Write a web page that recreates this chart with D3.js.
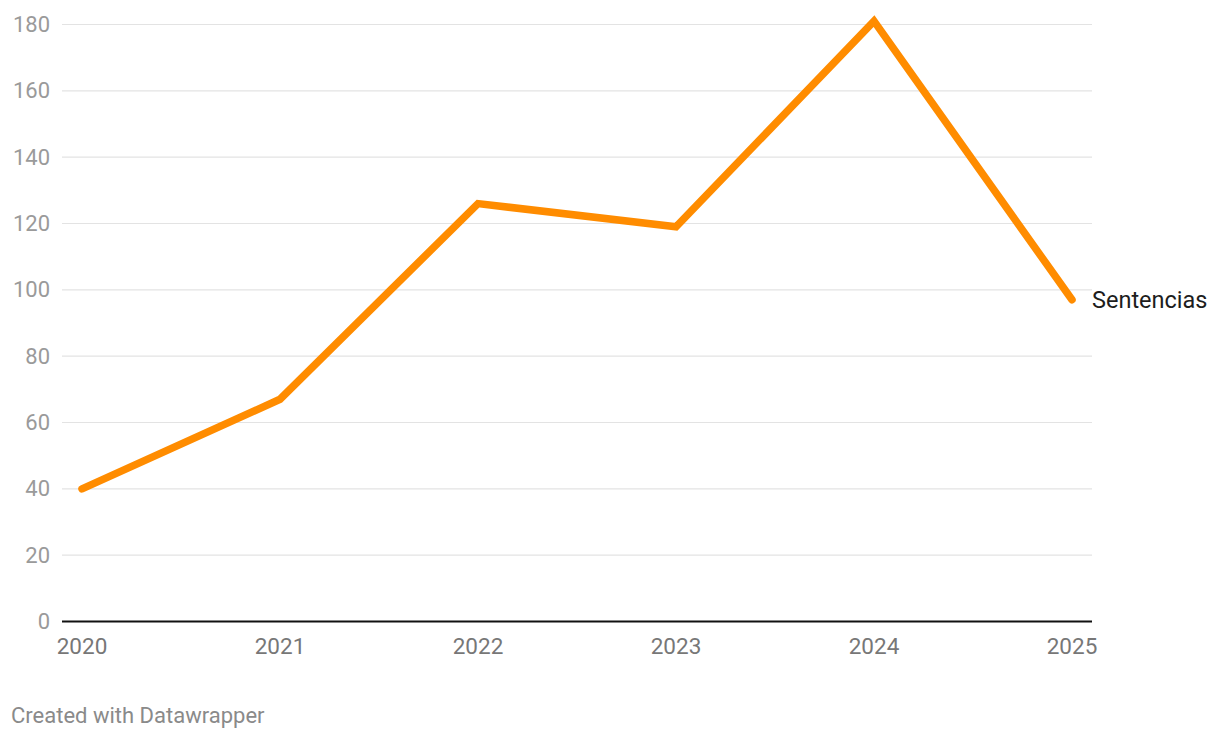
<!DOCTYPE html>
<html><head><meta charset="utf-8">
<script src="https://cdn.jsdelivr.net/npm/d3@7"></script>
<style>
body{margin:0;background:#fff;font-family:Roboto,"Noto Sans",sans-serif;}
svg{display:block}
</style></head>
<body>
<svg id="chart" width="1220" height="738"></svg>
<script>
const years = ["2020","2021","2022","2023","2024","2025"];
const sentencias = [40, 67, 126, 119, 181, 97];
const yTicks = [0,20,40,60,80,100,120,140,160,180];
const seriesName = "Sentencias";

const svg = d3.select("#chart");
const x = d3.scalePoint().domain(years).range([82, 1072]);
const y = d3.scaleLinear().domain([0,180]).range([621.5, 24.5]);
const gridLeft = 62, gridRight = 1092;

// gridlines
svg.append("g").selectAll("line").data(yTicks.filter(d=>d>0)).join("line")
  .attr("x1", gridLeft).attr("x2", gridRight)
  .attr("y1", d=>y(d)).attr("y2", d=>y(d))
  .attr("stroke", "#e3e3e3").attr("stroke-width", 1.2);

// y labels
svg.append("g").selectAll("text").data(yTicks).join("text")
  .attr("x", 50).attr("y", d=>y(d) + 7.5)
  .attr("text-anchor", "end").attr("fill", "#9a9a9a")
  .attr("font-size", 22).text(d=>d);

// baseline
svg.append("line").attr("x1", gridLeft).attr("x2", gridRight)
  .attr("y1", y(0)).attr("y2", y(0)).attr("stroke", "#111").attr("stroke-width", 2);

// x labels
svg.append("g").selectAll("text").data(years).join("text")
  .attr("x", d=>x(d)).attr("y", 653.5)
  .attr("text-anchor", "middle").attr("fill", "#777")
  .attr("font-size", 22.5).text(d=>d);

// line
const line = d3.line().x((d,i)=>x(years[i])).y(d=>y(d));
svg.append("path").datum(sentencias).attr("d", line)
  .attr("fill", "none").attr("stroke", "#ff8c00").attr("stroke-width", 7.5)
  .attr("stroke-linecap", "round").attr("stroke-linejoin", "miter");

// series label
svg.append("text").attr("x", 1092).attr("y", y(sentencias[sentencias.length-1]) + 8.5)
  .attr("fill", "#1d1d1d").attr("font-size", 23.5).text(seriesName);

// footer
svg.append("text").attr("x", 11).attr("y", 723).attr("fill", "#8a8a8a")
  .attr("font-size", 22).text("Created with Datawrapper");
</script>
</body></html>
